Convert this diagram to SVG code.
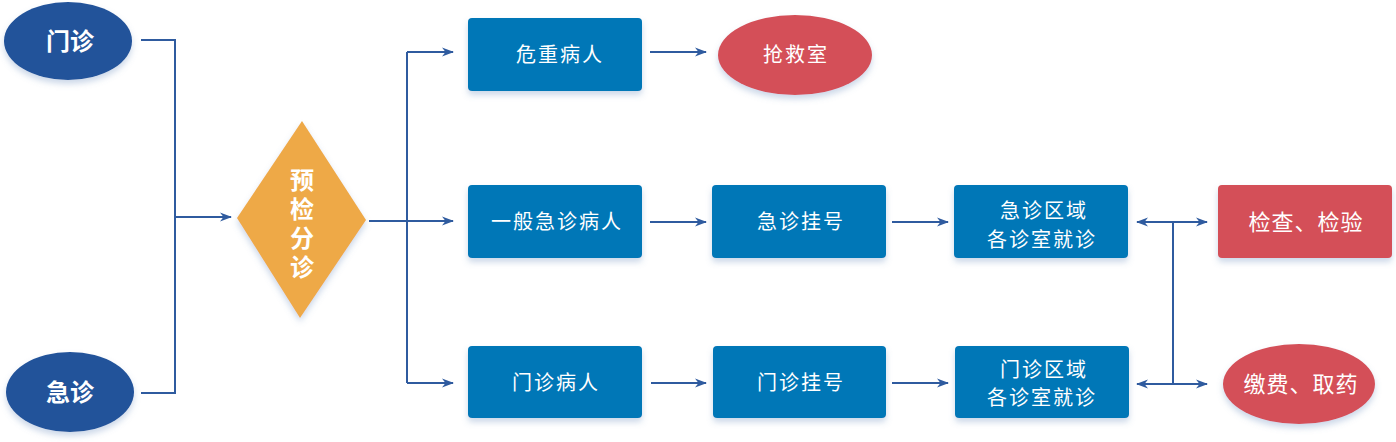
<svg xmlns="http://www.w3.org/2000/svg" width="1396" height="442" viewBox="0 0 1396 442">
<defs>
<style>
.t{font-family:"Noto Sans CJK SC","Liberation Sans",sans-serif;fill:#fff;text-anchor:middle;}
.lbl{font-size:20px;letter-spacing:2px;}
.big{font-size:22px;letter-spacing:1px;}
.bold{font-size:24px;font-weight:bold;}
.vert{writing-mode:vertical-rl;letter-spacing:5px;}
.box{fill:#0077B7;}
.red{fill:#D45058;}
.navy{fill:#22539A;}
.dia{fill:#EEA947;}
.c{fill:none;stroke:#2F5B9F;stroke-width:2;}
</style>
<filter id="sh" x="-20%" y="-20%" width="140%" height="160%">
<feDropShadow dx="0" dy="4" stdDeviation="3" flood-color="#6A8FBF" flood-opacity="0.35"/>
</filter>
<marker id="ar" viewBox="0 0 12 10" refX="11" refY="5" markerWidth="12" markerHeight="10" markerUnits="userSpaceOnUse" orient="auto-start-reverse">
<path d="M0,0.5 L12,5 L0,9.5 L3.5,5 z" fill="#2F5B9F"/>
</marker>
</defs>

<g id="connectors">
<path class="c" d="M141,40 H175 V393 H141"/>
<path class="c" d="M175,217 H231" marker-end="url(#ar)"/>
<path class="c" d="M369,221 H453" marker-end="url(#ar)"/>
<path class="c" d="M407,52 V383"/>
<path class="c" d="M407,52 H453" marker-end="url(#ar)"/>
<path class="c" d="M407,383 H453" marker-end="url(#ar)"/>
<path class="c" d="M650,52 H706" marker-end="url(#ar)"/>
<path class="c" d="M650,222 H706" marker-end="url(#ar)"/>
<path class="c" d="M892,222 H948" marker-end="url(#ar)"/>
<path class="c" d="M651,383 H706" marker-end="url(#ar)"/>
<path class="c" d="M892,383 H948" marker-end="url(#ar)"/>
<path class="c" d="M1137,222 H1207" marker-start="url(#ar)" marker-end="url(#ar)"/>
<path class="c" d="M1137,384 H1207" marker-start="url(#ar)" marker-end="url(#ar)"/>
<path class="c" d="M1173,222 V384"/>
</g>

<g id="menzhen">
<ellipse class="navy" cx="68" cy="41" rx="64" ry="39" filter="url(#sh)"/>
<text class="t bold" x="70" y="50">门诊</text>
</g>
<g id="jizhen">
<ellipse class="navy" cx="70" cy="392" rx="64" ry="40" filter="url(#sh)"/>
<text class="t bold" x="70" y="401">急诊</text>
</g>

<g id="yujianfenzhen">
<polygon class="dia" points="302,121 366,220 300,318 237,218" filter="url(#sh)"/>
<text class="t bold vert" x="302" y="226">预检分诊</text>
</g>

<g id="weizhong">
<rect class="box" x="468" y="18" width="174" height="73" rx="4" filter="url(#sh)"/>
<text class="t lbl" x="560" y="62">危重病人</text>
</g>
<g id="qiangjiushi">
<ellipse class="red" cx="795" cy="55" rx="77" ry="40" filter="url(#sh)"/>
<text class="t lbl" x="796" y="62">抢救室</text>
</g>

<g id="yiban">
<rect class="box" x="468" y="185" width="174" height="73" rx="4" filter="url(#sh)"/>
<text class="t lbl" x="557" y="229">一般急诊病人</text>
</g>
<g id="jizhenguahao">
<rect class="box" x="712" y="185" width="174" height="73" rx="4" filter="url(#sh)"/>
<text class="t lbl" x="801" y="229">急诊挂号</text>
</g>
<g id="jizhenquyu">
<rect class="box" x="954" y="185" width="174" height="73" rx="4" filter="url(#sh)"/>
<text class="t lbl" x="1044" y="218">急诊区域</text>
<text class="t lbl" x="1042" y="247">各诊室就诊</text>
</g>
<g id="jiancha">
<rect class="red" x="1218" y="185" width="174" height="73" rx="4" filter="url(#sh)"/>
<text class="t big" x="1306" y="230">检查、检验</text>
</g>

<g id="menzhenbingren">
<rect class="box" x="468" y="346" width="174" height="72" rx="4" filter="url(#sh)"/>
<text class="t lbl" x="556" y="390">门诊病人</text>
</g>
<g id="menzhenguahao">
<rect class="box" x="713" y="346" width="173" height="72" rx="4" filter="url(#sh)"/>
<text class="t lbl" x="801" y="390">门诊挂号</text>
</g>
<g id="menzhenquyu">
<rect class="box" x="955" y="346" width="174" height="72" rx="4" filter="url(#sh)"/>
<text class="t lbl" x="1044" y="377">门诊区域</text>
<text class="t lbl" x="1042" y="405">各诊室就诊</text>
</g>
<g id="jiaofei">
<ellipse class="red" cx="1299" cy="384" rx="76" ry="40" filter="url(#sh)"/>
<text class="t big" x="1301" y="392">缴费、取药</text>
</g>
</svg>
